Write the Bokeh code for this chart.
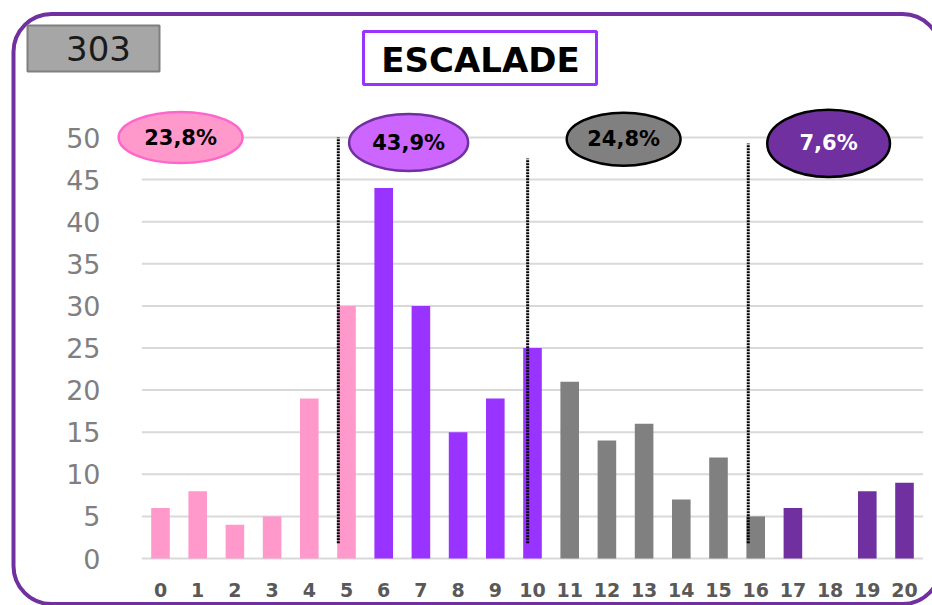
from bokeh.plotting import figure
from bokeh.models import FixedTicker, BoxAnnotation, Label, Range1d, ColumnDataSource
from bokeh.embed import file_html
from bokeh.resources import INLINE
from bokeh.core.properties import value

# ---- data ----
scores = list(range(21))
counts = [6, 8, 4, 5, 19, 30, 44, 30, 15, 19, 25, 21, 14, 16, 7, 12, 5, 6, 0, 8, 9]
groups = [0] * 6 + [1] * 5 + [2] * 6 + [3] * 4
y_ticks = [0, 5, 10, 15, 20, 25, 30, 35, 40, 45, 50]
shares = ["23,8%", "43,9%", "24,8%", "7,6%"]
title_text = "ESCALADE"
badge_text = "303"

# ---- styles ----
group_fill = ["#ff99cc", "#9933ff", "#808080", "#7030a0"]
ell_line = ["#ff66cc", "#7030a0", "#000000", "#000000"]
ell_fill = ["#ff99cc", "#cc66ff", "#808080", "#7030a0"]
ell_text = ["#000000", "#000000", "#000000", "#ffffff"]
# annotation placement (data units)
ell_x = [0.54, 6.67, 12.45, 17.96]
ell_y = [50.0, 49.4, 49.8, 49.3]
ell_w = [3.33, 3.2, 3.06, 3.3]
ell_h = [6.06, 6.77, 6.3, 8.0]
sep_x = [4.78, 9.87, 15.8]
sep_top = [50.0, 47.5, 49.3]

W, H = 932, 605
PX_X, PX_Y = 37.2, 8.42      # pixels per data unit
X0_PX, Y0_PX = 160, 558      # pixel position of (0, 0)

p = figure(width=W, height=H,
           x_range=Range1d(-X0_PX / PX_X, (W - X0_PX) / PX_X),
           y_range=Range1d(-(H - Y0_PX) / PX_Y, Y0_PX / PX_Y),
           output_backend="svg", toolbar_location=None)
p.min_border = 0
p.min_border_left = 0
p.min_border_right = 0
p.min_border_top = 0
p.min_border_bottom = 0
p.title.visible = False
p.outline_line_color = None
p.xgrid.visible = False
p.ygrid.visible = False
p.background_fill_color = "white"
p.border_fill_color = "white"

# outer rounded frame
p.add_layout(BoxAnnotation(left=13, right=940, top=13.5, bottom=603.5,
                           left_units="canvas", right_units="canvas",
                           top_units="canvas", bottom_units="canvas",
                           fill_color=None, line_color="#7030a0", line_alpha=1,
                           line_width=4, border_radius=38, level="underlay"))

# gridlines
p.segment(x0=[-0.5] * len(y_ticks), y0=y_ticks, x1=[20.5] * len(y_ticks), y1=y_ticks,
          line_color="#d9d9d9", line_width=2)

# bars
bars = ColumnDataSource(dict(x=scores, top=counts, color=[group_fill[g] for g in groups]))
p.vbar(x="x", top="top", width=0.5, fill_color="color", line_color=None, source=bars)

# separators
p.segment(x0=sep_x, y0=[1.8] * 3, x1=sep_x, y1=sep_top,
          line_color="black", line_width=3, line_dash="2 1")

# ellipses
p.ellipse(x=ell_x, y=ell_y, width=ell_w, height=ell_h,
          fill_color=ell_fill, line_color=ell_line, line_width=2.5)
p.text(x=ell_x, y=ell_y, text=shares, text_color=ell_text,
       text_font=value("DejaVu Sans"), text_font_style="bold",
       text_font_size="21px", text_align="center", text_baseline="middle")

# axes (drawn at fixed data locations)
p.xaxis.ticker = FixedTicker(ticks=scores)
p.yaxis.ticker = FixedTicker(ticks=y_ticks)
p.xaxis.fixed_location = 0
p.yaxis.fixed_location = (111 - X0_PX) / PX_X
for ax in (p.xaxis[0], p.yaxis[0]):
    ax.axis_line_color = None
    ax.major_tick_line_color = None
    ax.minor_tick_line_color = None
p.xaxis.major_label_text_font = "DejaVu Sans"
p.xaxis.major_label_text_font_style = "bold"
p.xaxis.major_label_text_font_size = "19px"
p.xaxis.major_label_text_color = "#595959"
p.xaxis.major_label_standoff = 18
p.yaxis.major_label_text_font = "DejaVu Sans"
p.yaxis.major_label_text_font_size = "27px"
p.yaxis.major_label_text_color = "#7f7f7f"
p.yaxis.major_label_standoff = 5

# badge
p.add_layout(BoxAnnotation(left=27, right=159, top=25, bottom=71,
                           left_units="canvas", right_units="canvas",
                           top_units="canvas", bottom_units="canvas",
                           fill_color="#a6a6a6", fill_alpha=1, line_color="#7f7f7f",
                           line_alpha=1, line_width=2, level="overlay"))
p.add_layout(Label(x=98, y=48, x_units="canvas", y_units="canvas", text=badge_text,
                   text_font="DejaVu Sans", text_font_size="34px", text_color="#1a1a1a",
                   text_align="center", text_baseline="middle", level="overlay"))
# title box
p.add_layout(BoxAnnotation(left=363, right=596, top=31, bottom=84,
                           left_units="canvas", right_units="canvas",
                           top_units="canvas", bottom_units="canvas",
                           fill_color="white", fill_alpha=1, line_color="#9933ff",
                           line_alpha=1, line_width=3, level="overlay"))
p.add_layout(Label(x=480, y=59, x_units="canvas", y_units="canvas", text=title_text,
                   text_font="DejaVu Sans", text_font_style="bold", text_font_size="34px",
                   text_color="black", text_align="center", text_baseline="middle",
                   level="overlay"))

open("out.html", "w").write(file_html(p, INLINE))
